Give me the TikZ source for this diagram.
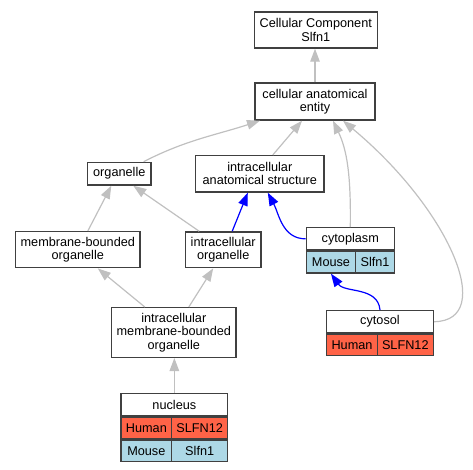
\documentclass[tikz,border=0pt]{standalone}
\usepackage{fontspec}
\setmainfont{Liberation Sans}
\usetikzlibrary{arrows.meta, positioning}
\definecolor{edgegray}{HTML}{C0C0C0}
\definecolor{boxline}{HTML}{404040}
\definecolor{tomato}{HTML}{FF6347}
\definecolor{lblue}{HTML}{ADD8E6}
\newcommand{\gofont}{\fontsize{12.7}{13.3}\selectfont}

\begin{document}
\begin{tikzpicture}[
    x=1pt, y=-1pt,
    term/.style={draw=boxline, line width=1.4pt, fill=white, align=center, inner sep=0pt, font=\gofont},
    cell/.style={term, minimum height=21.6pt},
    human/.style={cell, fill=tomato},
    mouse/.style={cell, fill=lblue},
    isa/.style={-{Triangle[length=13pt, width=9.5pt]}, line width=1.2pt, color=edgegray},
    partof/.style={isa, color=blue}
]
\useasboundingbox (0,0) rectangle (473,469);

% terms
\node (cc) [term, minimum width=123pt, minimum height=36pt] at (315.8,30) {Cellular Component\\Slfn1};
\node (cae) [term, minimum width=120pt, minimum height=37pt] at (315,101.5) {cellular anatomical\\entity};
\node (org) [term, minimum width=63.3pt, minimum height=22.7pt] at (119.3,173.7) {organelle};
\node (ias) [term, minimum width=128.3pt, minimum height=36.3pt] at (259.8,173.8) {intracellular\\anatomical structure};
\node (mbo) [term, minimum width=124.3pt, minimum height=36pt] at (77.8,249.7) {membrane-bounded\\organelle};
\node (io) [term, minimum width=75.7pt, minimum height=35.7pt] at (223.2,249.8) {intracellular\\organelle};
\node (imbo) [term, minimum width=124.3pt, minimum height=49.6pt] at (173.8,332.5) {intracellular\\membrane-bounded\\organelle};

% annotated terms
\node (cyto) [term, minimum width=88pt, minimum height=22.3pt] at (350.3,238.85) {cytoplasm};
\node (cytoM) [mouse, anchor=north west, minimum width=49.4pt] at (cyto.south west) {Mouse};
\node (cytoS) [mouse, anchor=north east, minimum width=38.6pt] at (cyto.south east) {Slfn1};

\node (sol) [term, minimum width=106.6pt, minimum height=22pt] at (380,321.7) {cytosol};
\node (solH) [human, anchor=north west, minimum width=50.6pt] at (sol.south west) {Human};
\node (solS) [human, anchor=north east, minimum width=56pt] at (sol.south east) {SLFN12};

\node (nuc) [term, minimum width=106.7pt, minimum height=22.4pt] at (174.35,404.5) {nucleus};
\node (nucH) [human, anchor=north west, minimum width=50.7pt] at (nuc.south west) {Human};
\node (nucS) [human, anchor=north east, minimum width=56pt] at (nuc.south east) {SLFN12};
\node (nucM) [mouse, anchor=north west, minimum width=50.7pt] at (nucH.south west) {Mouse};
\node (nucT) [mouse, anchor=north east, minimum width=56pt] at (nucS.south east) {Slfn1};

% is_a
\draw[isa] (cae.north) -- (cae.north |- cc.south);
\draw[isa] ([xshift=-8pt]org.north east) to[out=27, in=198] ([xshift=-55pt]cae.south);
\draw[isa] ([xshift=13pt]ias.north) -- ([xshift=-13pt]cae.south);
\draw[isa] (cyto.north) .. controls (351,175) and (347,150) .. ([xshift=18pt]cae.south);
\draw[isa] (sol.east) .. controls (497,321) and (450,210) .. ([xshift=28pt]cae.south);
\draw[isa] ([xshift=10pt]mbo.north) -- ([xshift=-8pt]org.south);
\draw[isa] ([xshift=-24pt]io.north) -- ([xshift=14pt]org.south);
\draw[isa] ([xshift=-29pt]imbo.north) -- ([xshift=20pt]mbo.south);
\draw[isa] ([xshift=15pt]imbo.north) -- ([xshift=-10pt]io.south);
\draw[isa] (nuc.north) -- (nuc.north |- imbo.south);

% part_of
\draw[partof] ([xshift=9pt]io.north) -- ([xshift=-12pt]ias.south);
\draw[partof] (cyto.west) to[out=180, in=-62] ([xshift=8pt]ias.south);
\draw[partof] (sol.north) to[out=95, in=-55] (cytoM.south);
\end{tikzpicture}
\end{document}
